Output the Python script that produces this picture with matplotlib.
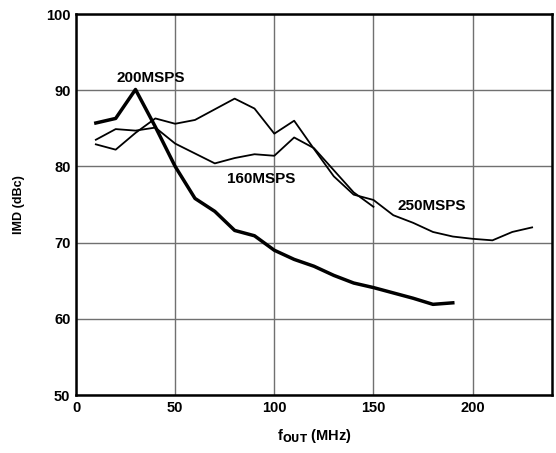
import matplotlib.pyplot as plt
import numpy as np

plt.rcParams['font.family'] = ['Liberation Sans', 'DejaVu Sans']
plt.rcParams['font.weight'] = 'bold'

# output frequency (MHz) and IMD (dBc) for each sample rate
f_200 = [10, 20, 30, 40, 50, 60, 70, 80, 90, 100, 110, 120, 130, 140, 150, 160, 170, 180, 190]
imd_200 = [85.7, 86.3, 90.1, 85.2, 80.0, 75.8, 74.1, 71.6, 70.9, 69.0, 67.8, 66.9, 65.7, 64.7, 64.1, 63.4, 62.7, 61.9, 62.1]

f_160 = [10, 20, 30, 40, 50, 60, 70, 80, 90, 100, 110, 120, 130, 140, 150]
imd_160 = [83.5, 84.9, 84.7, 85.1, 83.0, 81.7, 80.4, 81.1, 81.6, 81.4, 83.8, 82.4, 79.5, 76.6, 74.7]

f_250 = [10, 20, 30, 40, 50, 60, 70, 80, 90, 100, 110, 120, 130, 140, 150,
         160, 170, 180, 190, 200, 210, 220, 230]
imd_250 = [82.9, 82.2, 84.4, 86.3, 85.6, 86.1, 87.5, 88.9, 87.6, 84.3, 86.0, 82.3, 78.7, 76.3, 75.6,
           73.6, 72.6, 71.4, 70.8, 70.5, 70.3, 71.4, 72.0]

fig = plt.figure(figsize=(5.56, 4.53), dpi=100)
ax = fig.add_axes([0.1367, 0.128, 0.856, 0.841])

ax.plot(f_250, imd_250, color='black', lw=1.3)
ax.plot(f_160, imd_160, color='black', lw=1.3)
ax.plot(f_200, imd_200, color='black', lw=2.5)

ax.text(20.5, 91.1, '200MSPS', fontsize=11, fontweight='bold')
ax.text(76, 78.3, '160MSPS', fontsize=11, fontweight='bold', va='center')
ax.text(162, 74.8, '250MSPS', fontsize=11, fontweight='bold', va='center')

ax.set_xlim(0, 240)
ax.set_ylim(50, 100)
ax.set_xticks([0, 50, 100, 150, 200])
ax.set_yticks(np.arange(50, 101, 10))
ax.tick_params(length=0, labelsize=10.5, pad=4)
for lbl in ax.get_xticklabels() + ax.get_yticklabels():
    lbl.set_fontweight('bold')
ax.grid(color='#707070', lw=1.0)
ax.set_axisbelow(True)
for s in ax.spines.values():
    s.set_linewidth(1.8)

ax.set_xlabel(r'f$_{\mathbf{OUT}}$ (MHz)', fontsize=10.5, fontweight='bold', labelpad=9)
ax.set_ylabel('IMD (dBc)', fontsize=9, fontweight='bold', labelpad=15)

fig.savefig('out.png', dpi=100)
